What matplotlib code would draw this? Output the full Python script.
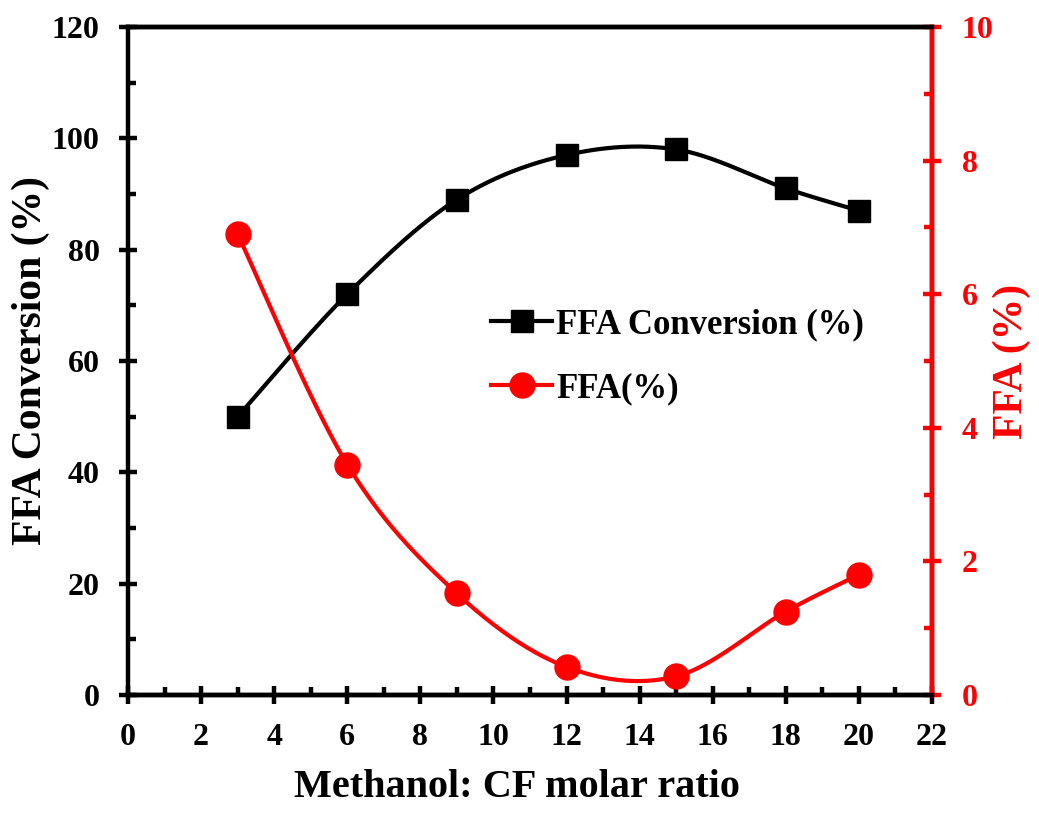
import numpy as np
import matplotlib
matplotlib.use("Agg")
import matplotlib.pyplot as plt
from matplotlib.ticker import MultipleLocator
from matplotlib.lines import Line2D

plt.rcParams['font.family'] = ['Liberation Serif', 'DejaVu Serif']
plt.rcParams['font.weight'] = 'bold'

ratio = [3, 6, 9, 12, 15, 18, 20]
conversion = [50, 72, 89, 97, 98, 91, 87]
ffa = [6.9, 3.45, 1.52, 0.42, 0.28, 1.25, 1.8]


def smooth(xs, ys, n=40):
    # Catmull-Rom style smoothing (like spreadsheet "smoothed line")
    x = np.asarray(xs, float)
    y = np.asarray(ys, float)
    px = np.concatenate([[x[0]], x, [x[-1]]])
    py = np.concatenate([[y[0]], y, [y[-1]]])
    ox, oy = [], []
    t = np.linspace(0, 1, n)
    for i in range(1, len(px) - 2):
        p0x, p1x, p2x, p3x = px[i - 1:i + 3]
        p0y, p1y, p2y, p3y = py[i - 1:i + 3]
        c1x, c1y = p1x + (p2x - p0x) / 6, p1y + (p2y - p0y) / 6
        c2x, c2y = p2x - (p3x - p1x) / 6, p2y - (p3y - p1y) / 6
        bx = (1 - t) ** 3 * p1x + 3 * (1 - t) ** 2 * t * c1x + 3 * (1 - t) * t ** 2 * c2x + t ** 3 * p2x
        by = (1 - t) ** 3 * p1y + 3 * (1 - t) ** 2 * t * c1y + 3 * (1 - t) * t ** 2 * c2y + t ** 3 * p2y
        ox.extend(bx)
        oy.extend(by)
    return np.array(ox), np.array(oy)


fig = plt.figure(figsize=(10.39, 8.17), dpi=100)
ax = fig.add_axes([0.1232, 0.1493, 0.7738, 0.8177])
ax2 = ax.twinx()

sx, sy = smooth(ratio, conversion)
ax.plot(sx, sy, color='black', lw=3, zorder=2)
ax.plot(ratio, conversion, ls='none', marker='s', ms=16, color='black', zorder=3)

rx, ry = smooth(ratio, ffa)
ax2.plot(rx, ry, color='red', lw=3, zorder=2)
ax2.plot(ratio, ffa, ls='none', marker='o', ms=18, color='red', zorder=3)

ax.set_xlim(0, 22)
ax.set_ylim(0, 120)
ax2.set_ylim(0, 10)

ax.xaxis.set_major_locator(MultipleLocator(2))
ax.xaxis.set_minor_locator(MultipleLocator(1))
ax.yaxis.set_major_locator(MultipleLocator(20))
ax.yaxis.set_minor_locator(MultipleLocator(10))
ax2.yaxis.set_major_locator(MultipleLocator(2))
ax2.yaxis.set_minor_locator(MultipleLocator(1))

LW = 3.2
for s in ax.spines.values():
    s.set_linewidth(LW)
for s in ax2.spines.values():
    s.set_linewidth(LW)
ax2.spines['right'].set_color('red')
ax2.spines['left'].set_visible(False)

TS = 23
ax.tick_params(axis='both', which='major', direction='inout', length=13, width=LW,
               labelsize=TS, pad=14)
ax.tick_params(axis='both', which='minor', direction='in', length=6, width=LW)
ax.tick_params(axis='x', which='major', pad=14)
ax2.tick_params(axis='y', which='major', direction='inout', length=13, width=LW,
                labelsize=TS, pad=15, color='red', labelcolor='red')
ax2.tick_params(axis='y', which='minor', direction='in', length=6, width=LW, color='red')

for lab in ax.get_xticklabels() + ax.get_yticklabels() + ax2.get_yticklabels():
    lab.set_fontweight('bold')

ax.set_xlabel('Methanol: CF molar ratio', fontsize=29, fontweight='bold')
ax.xaxis.set_label_coords(0.484, -0.11)
ax.set_ylabel('FFA Conversion (%)', fontsize=30, fontweight='bold', labelpad=1)
ax2.set_ylabel('FFA (%)', fontsize=30, fontweight='bold', color='red', labelpad=-1)

h1 = Line2D([], [], color='black', lw=3, marker='s', ms=16)
h2 = Line2D([], [], color='red', lw=3, marker='o', ms=18)
ax.legend([h1, h2], ['FFA Conversion (%)', 'FFA(%)'], loc='upper left',
          bbox_to_anchor=(0.413, 0.626), frameon=False,
          handlelength=1.75, handletextpad=0.12, labelspacing=0.9,
          prop={'weight': 'bold', 'size': 25})

fig.savefig('out.png', dpi=100)
